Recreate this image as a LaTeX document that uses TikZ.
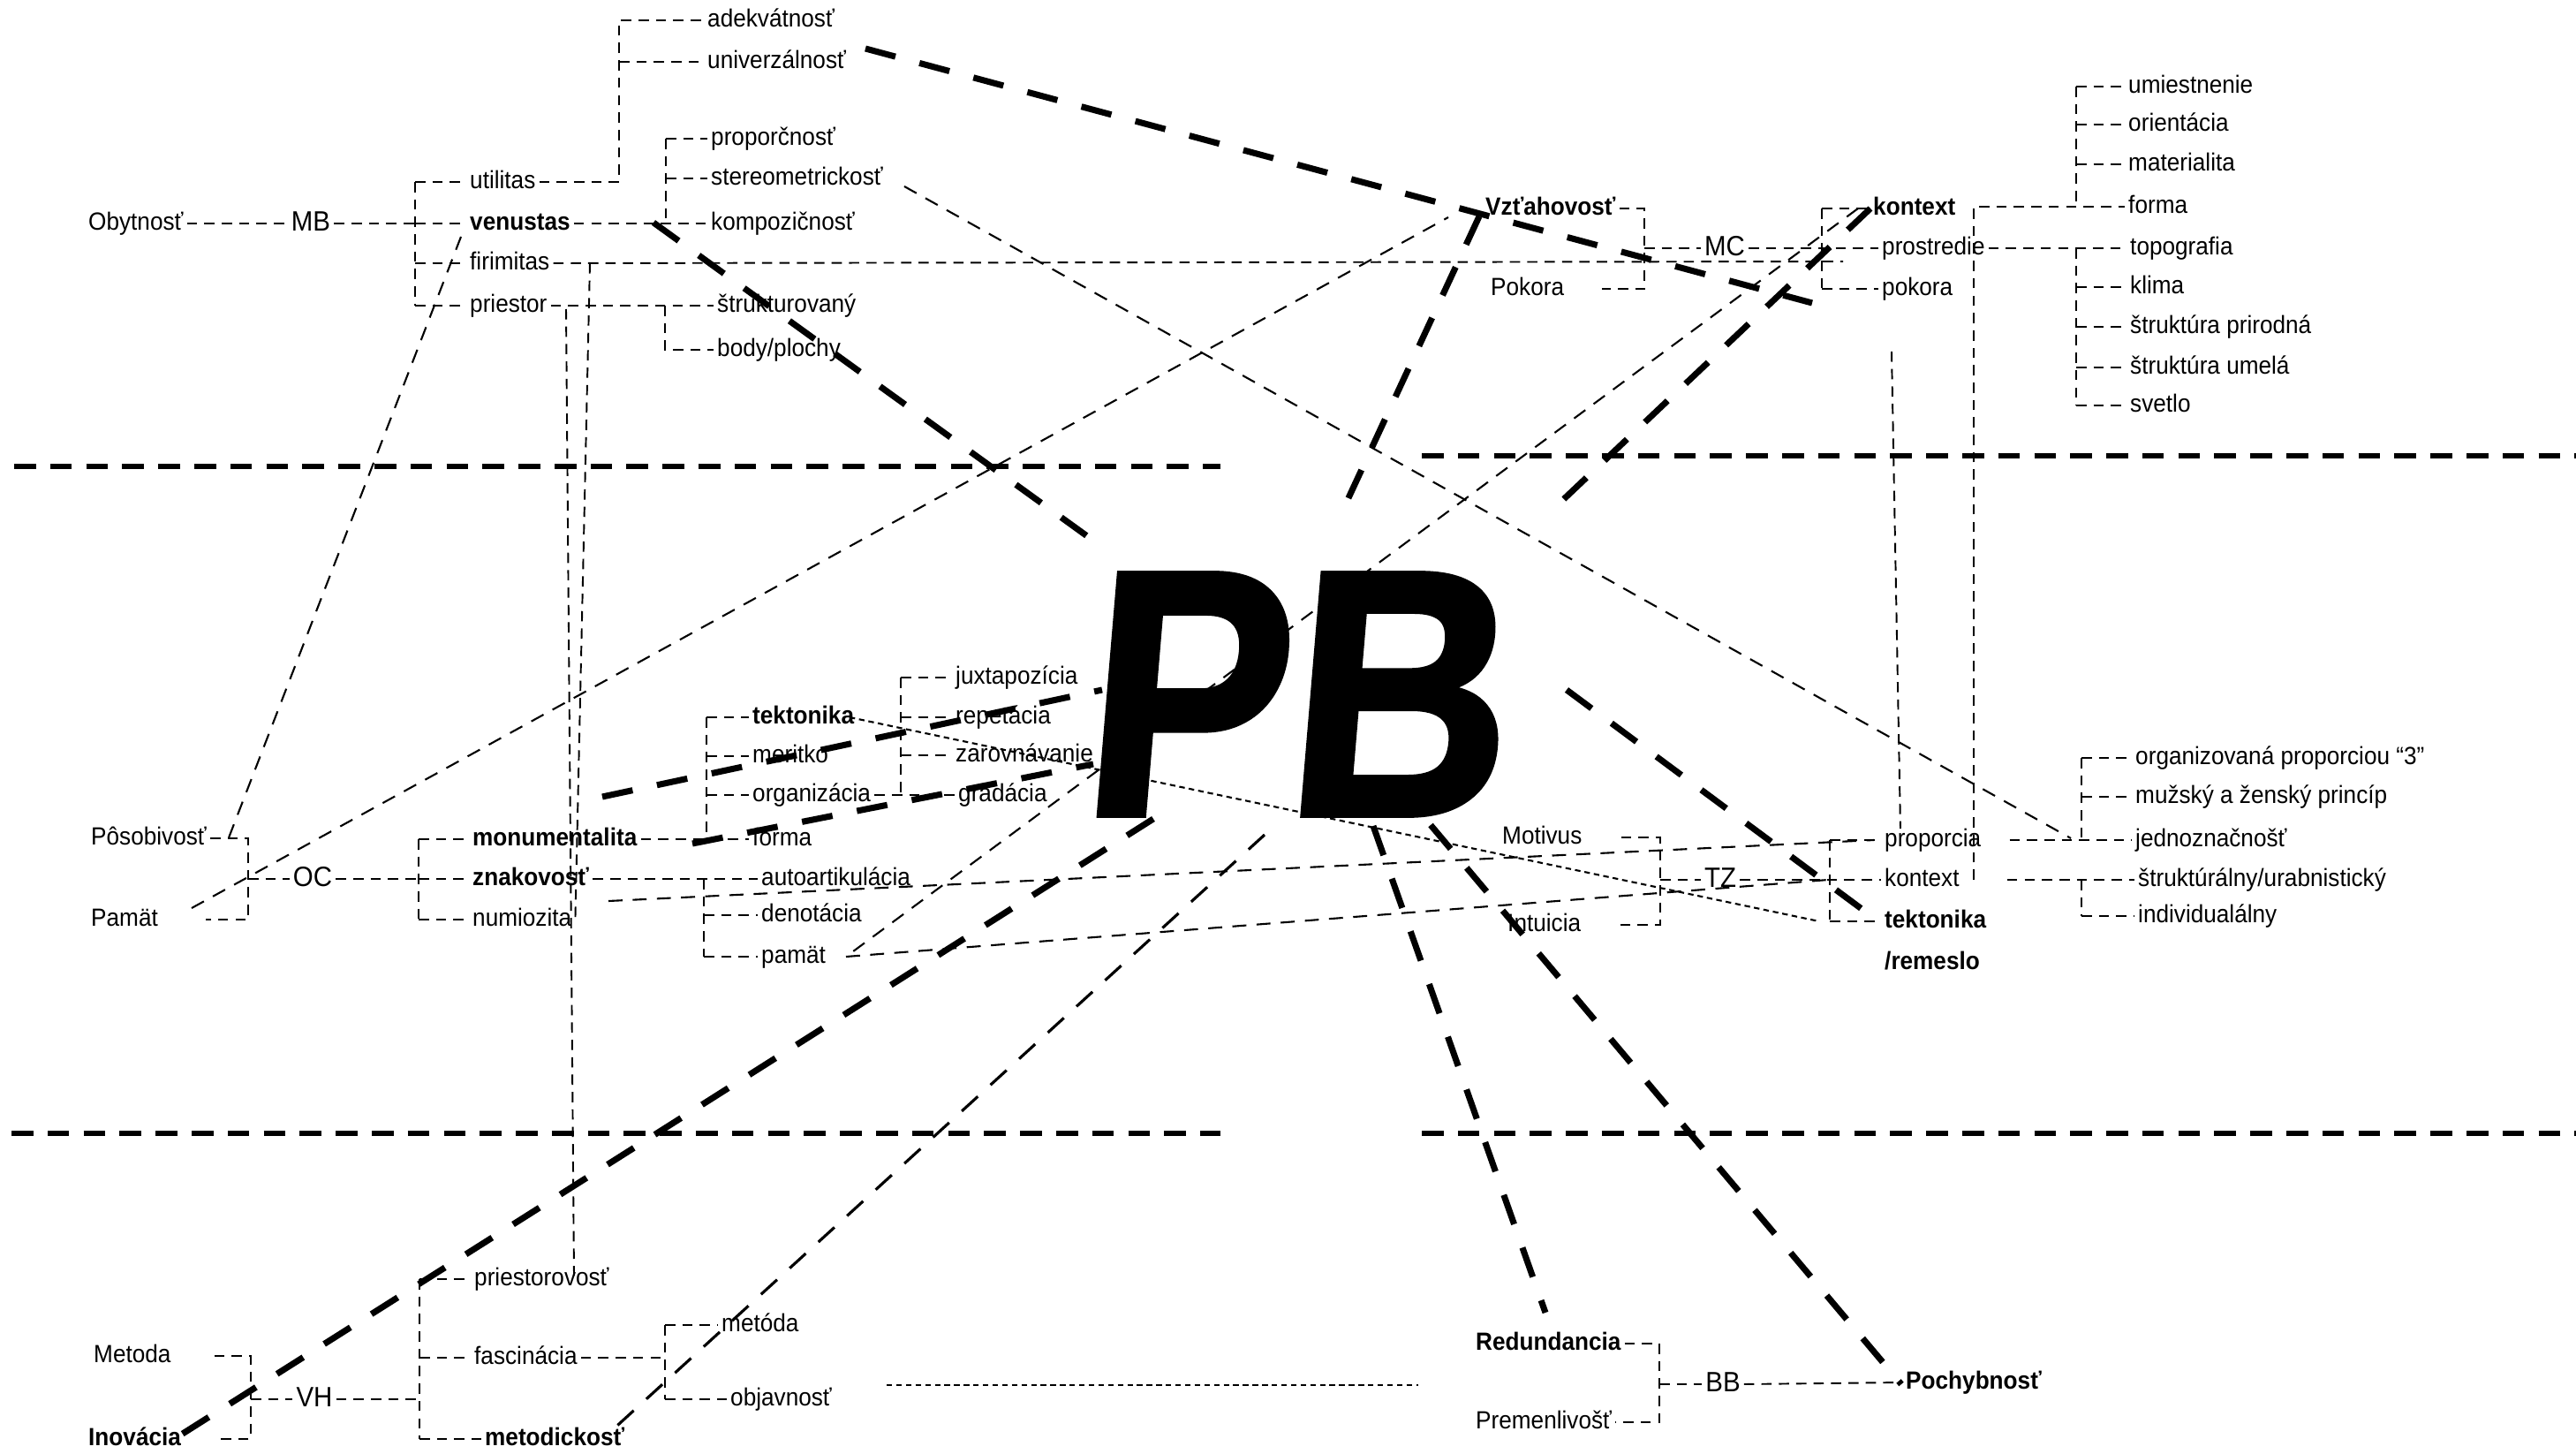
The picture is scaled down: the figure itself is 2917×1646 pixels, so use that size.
\documentclass[tikz,border=0pt]{standalone}
\usepackage{fontspec}
\setmainfont{Liberation Sans}[FakeStretch=0.93]
\newfontfamily\pbfamily{Liberation Sans}[FakeStretch=0.87,FakeSlant=0.084,FakeBold=1.6]
\usetikzlibrary{calc}
\tikzset{
  lbl/.style={anchor=west, inner sep=1pt, text height=6pt, text depth=1.7pt, font=\fontsize{8}{9}\selectfont},
  lblb/.style={lbl, font=\fontsize{8}{9}\selectfont\bfseries},
  hub/.style={anchor=center, inner sep=1pt, text height=6.6pt, text depth=1.9pt, font=\fontsize{9}{10}\selectfont},
  br/.style={line width=0.55pt, dash pattern=on 3.3pt off 2.3pt},
  thinl/.style={line width=0.6pt, dash pattern=on 4.5pt off 3.3pt},
  medl/.style={line width=0.9pt, dash pattern=on 7pt off 5.5pt},
  fine/.style={line width=0.6pt, dash pattern=on 1.8pt off 1.3pt},
  spoke/.style={line width=2pt, dash pattern=on 10pt off 8pt},
  band/.style={line width=1.6pt, dash pattern=on 7pt off 4.6pt},
}
\newcommand\brstub[2]{\draw[br] (#2.west -| #1) -- (#2.west);}
\newcommand\brvert[3]{\draw[br] (#2.west -| #1) -- (#3.west -| #1);}
\begin{document}
\begin{tikzpicture}[x=0.01cm,y=-0.01cm]
\useasboundingbox (0,0) rectangle (2917,1646);

% ---------- horizontal bands
\coordinate (bA1) at (16,528);  \coordinate (bA2) at (1382,528);
\coordinate (bB1) at (1610,516); \coordinate (bB2) at (2917,516);
\coordinate (bC1) at (13,1283); \coordinate (bC2) at (1382,1283);
\coordinate (bD1) at (1610,1283); \coordinate (bD2) at (2917,1283);
\draw[band] (bA1) -- (bA2);
\draw[band] (bB1) -- (bB2);
\draw[band] (bC1) -- (bC2);
\draw[band] (bD1) -- (bD2);

% ---------- bracket x positions
\coordinate (b1) at (470,0);  \coordinate (b2) at (701,0);  \coordinate (b3) at (754,0);
\coordinate (b4) at (753,0);  \coordinate (b5) at (1862,0); \coordinate (b6) at (2063,0);
\coordinate (b7) at (2351,0); \coordinate (b8) at (281,0);  \coordinate (b9) at (474,0);
\coordinate (b10) at (800,0); \coordinate (b11) at (1020,0); \coordinate (b12) at (797,0);
\coordinate (b13) at (1880,0); \coordinate (b14) at (2072,0); \coordinate (b15) at (2357,0);
\coordinate (b16) at (284,0); \coordinate (b17) at (475,0); \coordinate (b18) at (753,0);
\coordinate (b19) at (1879,0); \coordinate (vR) at (2235,234);

% ---------- MB cluster
\node[lbl] (Obytnost) at (96,253) {Obytnosť};
\node[hub] (MB) at (352,253) {MB};
\node[lbl] (utilitas) at (528,206) {utilitas};
\node[lblb] (venustas) at (528,253) {venustas};
\node[lbl] (firimitas) at (528,298) {firimitas};
\node[lbl] (priestor) at (528,346) {priestor};
\node[lbl] (adekvatnost) at (797,23) {adekvátnosť};
\node[lbl] (univerzalnost) at (797,70) {univerzálnosť};
\node[lbl] (proporcnost) at (801,157) {proporčnosť};
\node[lbl] (stereometrickost) at (801,202) {stereometrickosť};
\node[lbl] (kompozicnost) at (801,253) {kompozičnosť};
\node[lbl] (strukturovany) at (808,346) {štrukturovaný};
\node[lbl] (bodyplochy) at (808,396) {body/plochy};

% ---------- MC cluster
\node[lblb] (Vztahovost) at (1678,236) {Vzťahovosť};
\node[lbl] (Pokora) at (1684,327) {Pokora};
\node[hub] (MC) at (1953,281) {MC};
\node[lblb] (kontextA) at (2117,236) {kontext};
\node[lbl] (prostredie) at (2127,281) {prostredie};
\node[lbl] (pokoraA) at (2127,327) {pokora};
\node[lbl] (umiestnenie) at (2406,98) {umiestnenie};
\node[lbl] (orientacia) at (2406,141) {orientácia};
\node[lbl] (materialita) at (2406,186) {materialita};
\node[lbl] (formaR) at (2406,234) {forma};
\node[lbl] (topografia) at (2408,281) {topografia};
\node[lbl] (klima) at (2408,325) {klima};
\node[lbl] (strukturaP) at (2408,370) {štruktúra prirodná};
\node[lbl] (strukturaU) at (2408,416) {štruktúra umelá};
\node[lbl] (svetlo) at (2408,459) {svetlo};

% ---------- OC cluster
\node[lbl] (Posobivost) at (99,949) {Pôsobivosť};
\node[lbl] (Pamat) at (99,1041) {Pamät};
\node[hub] (OC) at (354,995) {OC};
\node[lblb] (monumentalita) at (531,950) {monumentalita};
\node[lblb] (znakovost) at (531,995) {znakovosť};
\node[lbl] (numiozita) at (531,1041) {numiozita};
\node[lblb] (tektonikaL) at (848,812) {tektonika};
\node[lbl] (meritko) at (848,856) {meritko};
\node[lbl] (organizacia) at (848,900) {organizácia};
\node[lbl] (formaL) at (848,950) {forma};
\node[lbl] (juxtapozicia) at (1078,767) {juxtapozícia};
\node[lbl] (repetacia) at (1078,812) {repetácia};
\node[lbl] (zarovnavanie) at (1078,855) {zarovnávanie};
\node[lbl] (gradacia) at (1081,900) {gradácia};
\node[lbl] (autoartikulacia) at (858,995) {autoartikulácia};
\node[lbl] (denotacia) at (858,1036) {denotácia};
\node[lbl] (pamatL) at (858,1083) {pamät};

% ---------- TZ cluster
\node[lbl] (Motivus) at (1697,948) {Motivus};
\node[lbl] (Intuicia) at (1703,1047) {Intuicia};
\node[hub] (TZ) at (1948,996) {TZ};
\node[lbl] (proporcia) at (2130,951) {proporcia};
\node[lbl] (kontextB) at (2130,996) {kontext};
\node[lblb] (tektonikaR) at (2130,1043) {tektonika};
\node[lblb] (remeslo) at (2130,1090) {/remeslo};
\node[lbl] (organizovana) at (2414,858) {organizovaná proporciou “3”};
\node[lbl] (muzsky) at (2414,902) {mužský a ženský princíp};
\node[lbl] (jednoznacnost) at (2414,951) {jednoznačnošť};
\node[lbl] (strukturalny) at (2417,996) {štruktúrálny/urabnistický};
\node[lbl] (individualalny) at (2417,1037) {individualálny};

% ---------- VH cluster
\node[lbl] (Metoda) at (102,1535) {Metoda};
\node[lblb] (Inovacia) at (96,1629) {Inovácia};
\node[hub] (VH) at (356,1584) {VH};
\node[lbl] (priestorovost) at (533,1448) {priestorovosť};
\node[lbl] (fascinacia) at (533,1537) {fascinácia};
\node[lblb] (metodickost) at (545,1629) {metodickosť};
\node[lbl] (metoda) at (813,1500) {metóda};
\node[lbl] (objavnost) at (823,1584) {objavnosť};

% ---------- BB cluster
\node[lblb] (Redundancia) at (1667,1521) {Redundancia};
\node[lbl] (Premenlivost) at (1667,1610) {Premenlivošť};
\node[hub] (BB) at (1951,1567) {BB};
\node[lblb] (Pochybnost) at (2154,1565) {Pochybnosť};

% ---------- MB brackets
\draw[br] (Obytnost.east) -- (MB.west);
\draw[br] (MB.east) -- (venustas.west -| b1);
\brvert{b1}{utilitas}{priestor}
\brstub{b1}{utilitas} \brstub{b1}{venustas} \brstub{b1}{firimitas} \brstub{b1}{priestor}
\draw[br] (utilitas.east) -- (utilitas.east -| b2) -- (adekvatnost.west -| b2) -- (adekvatnost.west);
\brstub{b2}{univerzalnost}
\draw[br] (venustas.east) -- (kompozicnost.west);
\brvert{b3}{proporcnost}{kompozicnost}
\brstub{b3}{proporcnost} \brstub{b3}{stereometrickost}
\draw[br] (priestor.east) -- (strukturovany.west);
\draw[br] (strukturovany.west -| b4) -- (bodyplochy.west -| b4) -- (bodyplochy.west);
\coordinate (fEnd) at (2087,296);
\draw[br] (firimitas.east) -- (fEnd);
\coordinate (fv) at (668,298);
\draw[br] (fv) -- (numiozita.east);
\coordinate (pv1) at (641,350); \coordinate (pv2) at (650,1444);
\draw[br] (pv1) -- (pv2);

% ---------- MC brackets
\draw[br] (Vztahovost.east) -- (Vztahovost.east -| b5) -- (Pokora.east -| b5) -- ++(-48,0);
\draw[br] (MC.west -| b5) -- (MC.west);
\draw[br] (MC.east) -- (prostredie.west);
\brvert{b6}{kontextA}{pokoraA}
\brstub{b6}{kontextA} \brstub{b6}{pokoraA}
\draw[br] (prostredie.east) -- (topografia.west);
\brvert{b7}{topografia}{svetlo}
\brstub{b7}{klima} \brstub{b7}{strukturaP} \brstub{b7}{strukturaU} \brstub{b7}{svetlo}
\brvert{b7}{umiestnenie}{formaR}
\brstub{b7}{umiestnenie} \brstub{b7}{orientacia} \brstub{b7}{materialita}
\draw[br] (vR |- kontextB.east) -- (vR) -- (formaR.west);
\coordinate (pp1) at (2142,398); \coordinate (pp2) at (2152,938);
\draw[br] (pp1) -- (pp2);

% ---------- OC brackets
\draw[br] (Posobivost.east) -- (Posobivost.east -| b8) -- (Pamat.east -| b8) -- ++(-48,0);
\draw[br] (OC.west -| b8) -- (OC.west);
\draw[br] (OC.east) -- (znakovost.west -| b9);
\brvert{b9}{monumentalita}{numiozita}
\brstub{b9}{monumentalita} \brstub{b9}{znakovost} \brstub{b9}{numiozita}
\draw[br] (monumentalita.east) -- (formaL.west);
\brvert{b10}{tektonikaL}{formaL}
\brstub{b10}{tektonikaL} \brstub{b10}{meritko} \brstub{b10}{organizacia}
\draw[br] (organizacia.east) -- (gradacia.west);
\brvert{b11}{juxtapozicia}{gradacia}
\brstub{b11}{juxtapozicia} \brstub{b11}{repetacia} \brstub{b11}{zarovnavanie}
\draw[br] (znakovost.east) -- (autoartikulacia.west);
\brvert{b12}{autoartikulacia}{pamatL}
\brstub{b12}{denotacia} \brstub{b12}{pamatL}

% ---------- TZ brackets
\draw[br] ($(Motivus.east)+(40,0)$) -- (Motivus.east -| b13) -- (Intuicia.east -| b13) -- ++(-46,0);
\draw[br] (TZ.west -| b13) -- (TZ.west);
\draw[br] (TZ.east) -- (kontextB.west);
\brvert{b14}{proporcia}{tektonikaR}
\brstub{b14}{proporcia} \brstub{b14}{tektonikaR}
\draw[br] ($(proporcia.east)+(28,0)$) -- (jednoznacnost.west);
\brvert{b15}{organizovana}{jednoznacnost}
\brstub{b15}{organizovana} \brstub{b15}{muzsky}
\draw[br] ($(kontextB.east)+(50,0)$) -- (strukturalny.west);
\brvert{b15}{strukturalny}{individualalny}
\brstub{b15}{individualalny}

% ---------- VH brackets
\draw[br] ($(Metoda.east)+(45,0)$) -- (Metoda.east -| b16) -- (Inovacia.east -| b16) -- ++(-35,0);
\draw[br] (VH.west -| b16) -- (VH.west);
\draw[br] (VH.east) -- (VH.east -| b17);
\brvert{b17}{priestorovost}{metodickost}
\brstub{b17}{priestorovost} \brstub{b17}{fascinacia} \brstub{b17}{metodickost}
\draw[br] (fascinacia.east) -- (fascinacia.east -| b18);
\brvert{b18}{metoda}{objavnost}
\brstub{b18}{metoda} \brstub{b18}{objavnost}

% ---------- BB brackets
\draw[br] (Redundancia.east) -- (Redundancia.east -| b19) -- (Premenlivost.east -| b19) -- (Premenlivost.east);
\draw[br] (BB.west -| b19) -- (BB.west);
\draw[br] (BB.east) -- (Pochybnost.west);
\coordinate (dl1) at (1004,1568); \coordinate (dl2) at (1606,1568);
\draw[fine] (dl1) -- (dl2);

% ---------- long thin diagonals
\coordinate (t1a) at (522,268);  \coordinate (t1b) at (258,951);
\coordinate (t2a) at (217,1028); \coordinate (t2b) at (1640,246);
\coordinate (t3a) at (1024,211); \coordinate (t3b) at (2345,949);
\coordinate (t4a) at (2104,236); \coordinate (t4b) at (958,1083);
\coordinate (t5a) at (689,1020); \coordinate (t5b) at (2122,951);
\coordinate (t6b) at (2070,996);
\coordinate (t7a) at (962,812);  \coordinate (t7b) at (2060,1043);
\coordinate (tKa) at (1432,945); \coordinate (tKb) at (690,1622);
\draw[thinl] (t1a) -- (t1b);
\draw[thinl] (t2a) -- (t2b);
\draw[thinl] (t3a) -- (t3b);
\draw[thinl] (t4a) -- (t4b);
\draw[thinl] (t5a) -- (t5b);
\draw[thinl] (t4b) -- (t6b);
\draw[fine] (t7a) -- (t7b);
\draw[medl] (tKa) -- (tKb);

% ---------- thick spokes
\coordinate (sAa) at (980,55);   \coordinate (sAb) at (2052,343);
\coordinate (sBa) at (1675,245); \coordinate (sBb) at (1525,568);
\coordinate (sCa) at (2118,236); \coordinate (sCb) at (1755,580);
\coordinate (sDa) at (740,252);  \coordinate (sDb) at (1245,617);
\coordinate (sEa) at (682,902);  \coordinate (sEb) at (1248,781);
\coordinate (sFa) at (784,955);  \coordinate (sFb) at (1238,865);
\coordinate (sGa) at (1306,927); \coordinate (sGb) at (191,1633);
\coordinate (sHa) at (1555,935); \coordinate (sHb) at (1750,1486);
\coordinate (sIa) at (1620,934); \coordinate (sIb) at (2153,1567);
\coordinate (sJa) at (1774,781); \coordinate (sJb) at (2123,1040);
\draw[spoke] (sAa) -- (sAb);
\draw[spoke] (sBa) -- (sBb);
\draw[spoke] (sCa) -- (sCb);
\draw[spoke] (sDa) -- (sDb);
\draw[spoke] (sEa) -- (sEb);
\draw[spoke] (sFa) -- (sFb);
\draw[spoke] (sGa) -- (sGb);
\draw[spoke] (sHa) -- (sHb);
\draw[spoke] (sIa) -- (sIb);
\draw[spoke] (sJa) -- (sJb);

% ---------- centre
\node[inner sep=0pt, anchor=center, font=\pbfamily\bfseries\fontsize{113}{113}\selectfont] (PB) at (1462,786) {PB};
\end{tikzpicture}
\end{document}
